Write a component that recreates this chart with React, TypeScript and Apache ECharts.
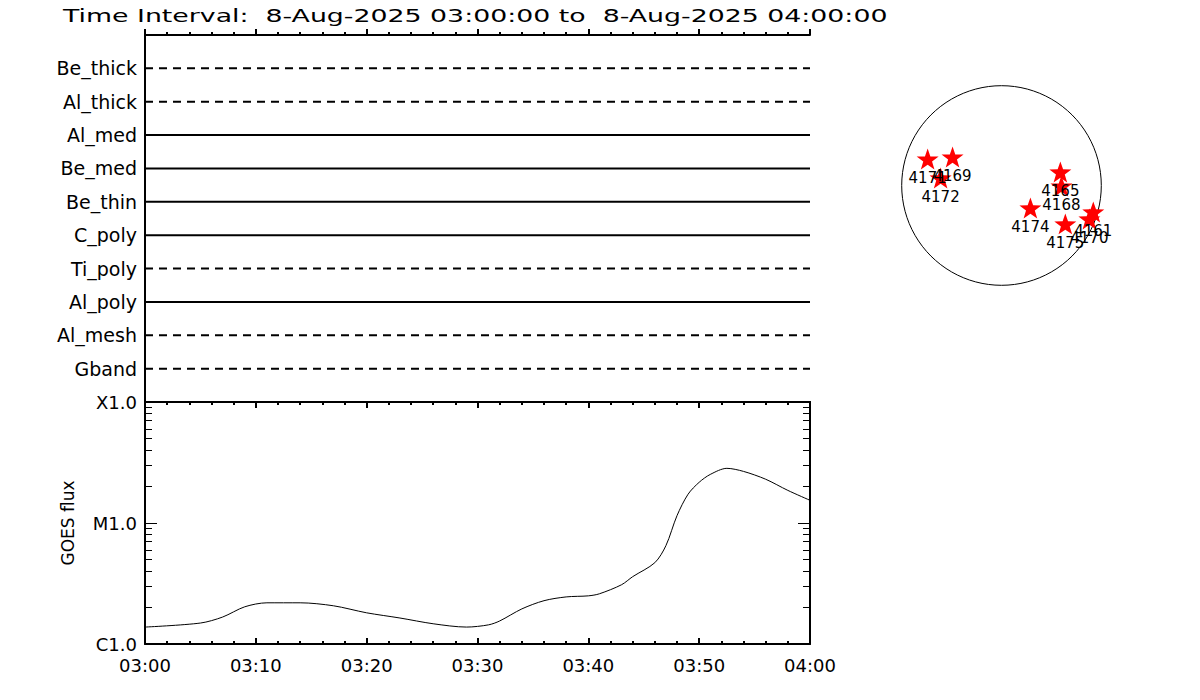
import React, { useEffect, useRef } from "react";
import * as echarts from "echarts";

const TITLE = "Time Interval:  8-Aug-2025 03:00:00 to  8-Aug-2025 04:00:00";

// Filter channels (top panel), top to bottom
const channels = ["Be_thick", "Al_thick", "Al_med", "Be_med", "Be_thin", "C_poly", "Ti_poly", "Al_poly", "Al_mesh", "Gband"];
const channelStyles = ["dashed", "dashed", "solid", "solid", "solid", "solid", "dashed", "solid", "dashed", "dashed"];
const coverageStartMin = 0; // minutes after 03:00
const coverageEndMin = 60;

// Time axis (minutes after 03:00)
const timeTickLabels = ["03:00", "03:10", "03:20", "03:30", "03:40", "03:50", "04:00"];

// GOES flux curve
const goesMinutes = [0, 5, 7, 9, 11, 14, 17, 20, 23, 26, 29, 31, 32, 34, 36, 38, 40, 41, 43, 44, 46, 47, 48, 49, 50, 51, 52.5, 54, 56, 58, 60];
const goesFlux = [
  1.38e-6, 1.49e-6, 1.67e-6, 2.03e-6, 2.19e-6, 2.19e-6, 2.07e-6, 1.81e-6, 1.64e-6, 1.47e-6, 1.38e-6,
  1.44e-6, 1.55e-6, 1.95e-6, 2.28e-6, 2.45e-6, 2.5e-6, 2.6e-6, 3.09e-6, 3.6e-6, 4.7e-6, 6.5e-6,
  1.15e-5, 1.73e-5, 2.17e-5, 2.52e-5, 2.83e-5, 2.67e-5, 2.3e-5, 1.86e-5, 1.54e-5,
];
const fluxMajorTicks = [1e-6, 1e-5, 1e-4];
const fluxMajorLabels = ["C1.0", "M1.0", "X1.0"];
const fluxMinorTicks = [2e-6, 3e-6, 4e-6, 5e-6, 6e-6, 7e-6, 8e-6, 9e-6, 2e-5, 3e-5, 4e-5, 5e-5, 6e-5, 7e-5, 8e-5, 9e-5];

// Solar disk with active regions (arcsec)
const solarRadiusArcsec = 946;
const regionNumbers = ["4171", "4169", "4172", "4165", "4168", "4174", "4175", "4161", "4170"];
const regionX = [-700, -464, -577, 558, 568, 274, 605, 870, 833];
const regionY = [251, 270, 71, 128, -5, -213, -364, -251, -317];

const FONT = "DejaVu Sans";
const STAR =
  "path://M50 0 L61.76 33.82 L97.55 34.55 L69.02 56.18 L79.39 90.45 L50 70 L20.61 90.45 L30.98 56.18 L2.45 34.55 L38.24 33.82 Z";

function measure(text: string, font: string): number {
  const c = document.createElement("canvas").getContext("2d");
  if (!c) return text.length * 10;
  c.font = font;
  return c.measureText(text).width;
}

export default function App() {
  const ref = useRef<HTMLDivElement>(null);

  useEffect(() => {
    if (!ref.current) return;
    const chart = echarts.init(ref.current, null, { renderer: "svg" });

    const titleFontSize = 18;
    const titleWidth = measure(TITLE, `${titleFontSize}px "${FONT}"`);
    const titleScale = 825 / titleWidth;

    const black = "#000";
    const lineAxis = { show: true, lineStyle: { color: black, width: 2 } };

    const timeAxisBase = (gridIndex: number, position: string, showLabels: boolean) => ({
      type: "value",
      gridIndex,
      position,
      min: 0,
      max: 60,
      interval: 10,
      axisLine: lineAxis,
      axisTick: { show: true, inside: true, length: 6, lineStyle: { color: black, width: 2 } },
      minorTick: { show: true, splitNumber: 5, length: 3, lineStyle: { color: black, width: 2 } },
      axisLabel: {
        show: showLabels,
        margin: 12,
        color: black,
        fontFamily: FONT,
        fontSize: 18,
        formatter: (v: number) => timeTickLabels[Math.round(v / 10)] ?? "",
      },
      splitLine: { show: false },
      minorSplitLine: { show: false },
    });

    const fluxAxis = (position: string, ticks: number[], len: number, showLabels: boolean, showLine: boolean, name?: string) => ({
      type: "log",
      logBase: 10,
      gridIndex: 1,
      position,
      min: 1e-6,
      max: 1e-4,
      name: name ?? "",
      nameLocation: "middle",
      nameRotate: 90,
      nameGap: 69,
      nameTextStyle: { color: black, fontFamily: FONT, fontSize: 17 },
      axisLine: showLine ? lineAxis : { show: false },
      axisTick: { show: true, inside: true, length: len, customValues: ticks, lineStyle: { color: black, width: 1 } },
      axisLabel: {
        show: showLabels,
        customValues: showLabels ? fluxMajorTicks : undefined,
        margin: 8,
        color: black,
        fontFamily: FONT,
        fontSize: 18,
        formatter: (v: number) => {
          const i = fluxMajorTicks.findIndex((t) => Math.abs(Math.log10(t) - Math.log10(v)) < 1e-6);
          return i >= 0 ? fluxMajorLabels[i] : "";
        },
      },
      splitLine: { show: false },
    });

    const channelSeries = channels.map((name, i) => ({
      type: "line",
      name,
      xAxisIndex: 0,
      yAxisIndex: 0,
      data: [
        [coverageStartMin, i + 1],
        [coverageEndMin, i + 1],
      ],
      symbol: "none",
      lineStyle: {
        color: black,
        width: 2,
        type: channelStyles[i] === "dashed" ? [8, 6] : "solid",
      },
      silent: true,
    }));

    const option: any = {
      animation: false,
      backgroundColor: "#fff",
      graphic: [
        {
          type: "text",
          x: 63,
          y: 16,
          scaleX: titleScale,
          style: {
            text: TITLE,
            fill: black,
            font: `${titleFontSize}px "${FONT}"`,
            textVerticalAlign: "middle",
            verticalAlign: "middle",
          },
        },
      ],
      grid: [
        { left: 145, top: 35, width: 665, height: 367, outerBoundsMode: "none", containLabel: false },
        { left: 145, top: 402, width: 665, height: 242, outerBoundsMode: "none", containLabel: false },
        { left: 896, top: 80, width: 211, height: 211, outerBoundsMode: "none", containLabel: false },
      ],
      xAxis: [
        timeAxisBase(0, "bottom", false),
        timeAxisBase(0, "top", false),
        timeAxisBase(1, "bottom", true),
        timeAxisBase(1, "top", false),
        { type: "value", gridIndex: 2, min: -1000, max: 1000, show: false },
      ],
      yAxis: [
        {
          type: "value",
          gridIndex: 0,
          position: "left",
          inverse: true,
          min: 0,
          max: channels.length + 1,
          interval: 1,
          axisLine: lineAxis,
          axisTick: { show: false },
          splitLine: { show: false },
          axisLabel: {
            margin: 8,
            color: black,
            fontFamily: FONT,
            fontSize: 19,
            formatter: (v: number) => channels[v - 1] ?? "",
          },
        },
        {
          type: "value",
          gridIndex: 0,
          position: "right",
          min: 0,
          max: channels.length + 1,
          axisLine: lineAxis,
          axisTick: { show: false },
          axisLabel: { show: false },
          splitLine: { show: false },
        },
        fluxAxis("left", fluxMajorTicks, 12, true, true, "GOES flux"),
        fluxAxis("left", fluxMinorTicks, 7, false, false),
        fluxAxis("right", fluxMajorTicks, 12, false, true),
        fluxAxis("right", fluxMinorTicks, 7, false, false),
        { type: "value", gridIndex: 2, min: -1000, max: 1000, show: false },
      ],
      series: [
        ...channelSeries,
        {
          type: "line",
          name: "GOES",
          xAxisIndex: 2,
          yAxisIndex: 2,
          data: goesMinutes.map((m, i) => [m, goesFlux[i]]),
          symbol: "none",
          smooth: 0.3,
          lineStyle: { color: black, width: 1 },
          silent: true,
        },
        {
          type: "custom",
          name: "disk",
          xAxisIndex: 4,
          yAxisIndex: 6,
          data: [[0, 0, solarRadiusArcsec]],
          silent: true,
          renderItem: (params: any, api: any) => {
            const c = api.coord([api.value(0), api.value(1)]);
            const r = api.size([api.value(2), 0])[0];
            return {
              type: "circle",
              shape: { cx: c[0], cy: c[1], r },
              style: { fill: "none", stroke: black, lineWidth: 1 },
            };
          },
        },
        {
          type: "scatter",
          name: "regions",
          xAxisIndex: 4,
          yAxisIndex: 6,
          symbol: STAR,
          symbolKeepAspect: true,
          symbolSize: 22,
          itemStyle: { color: "#ff0000", opacity: 1 },
          data: regionNumbers.map((n, i) => ({ name: n, value: [regionX[i], regionY[i]] })),
          label: {
            show: true,
            position: "bottom",
            distance: 1,
            formatter: "{b}",
            color: black,
            fontFamily: FONT,
            fontSize: 15,
          },
          silent: true,
        },
      ],
    };

    chart.setOption(option);
    return () => chart.dispose();
  }, []);

  return (
    <div
      ref={ref}
      style={{ position: "fixed", left: 0, top: 0, width: 1200, height: 700, background: "#fff" }}
    />
  );
}
